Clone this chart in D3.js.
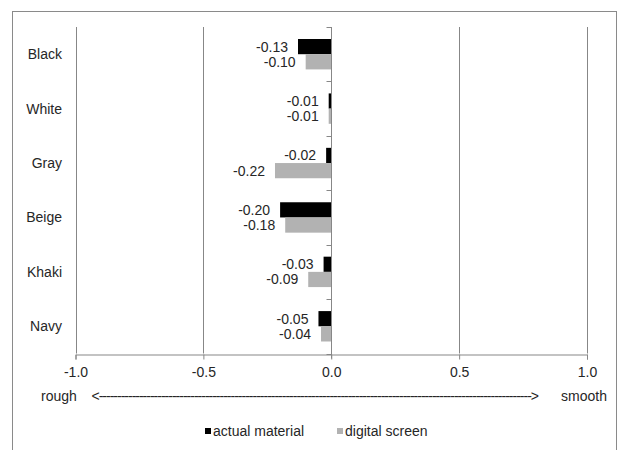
<!DOCTYPE html>
<html>
<head>
<meta charset="utf-8">
<script src="https://cdn.jsdelivr.net/npm/d3@7"></script>
<style>
  html, body { margin: 0; padding: 0; background: #fff; }
  svg text { font-family: "Liberation Sans", Arial, sans-serif; fill: #262626; }
</style>
</head>
<body>
<svg id="chart" width="618" height="450"></svg>
<script>
// Colour categories (top to bottom)
const categories = ["Black", "White", "Gray", "Beige", "Khaki", "Navy"];
// Series
const seriesNames = ["actual material", "digital screen"];
const actualMaterial = [-0.13, -0.01, -0.02, -0.20, -0.03, -0.05];
const digitalScreen  = [-0.10, -0.01, -0.22, -0.18, -0.09, -0.04];
const seriesColors = ["#000000", "#b2b2b2"];
// Value axis ticks
const xTicks = [-1.0, -0.5, 0.0, 0.5, 1.0];
const axisLeftLabel = "rough";
const axisRightLabel = "smooth";

const svg = d3.select("#chart");
const gridColor = "#878787";
const fontSize = 14;

// Outer frame (runs past the bottom edge)
svg.append("rect")
  .attr("x", 12.5).attr("y", 11.5)
  .attr("width", 604).attr("height", 460)
  .attr("fill", "none").attr("stroke", "#8a8a8a").attr("stroke-width", 1);

const plotTop = 27, plotBottom = 353.5;
const x = d3.scaleLinear().domain([-1, 1]).range([75.5, 587]);
const y = d3.scaleBand().domain(categories).range([plotTop, plotBottom]).padding(0);
const ySub = d3.scaleBand().domain(seriesNames)
  .range([0, y.bandwidth()]).paddingInner(0).paddingOuter(0.79);

// Vertical gridlines (zero is drawn as the category axis)
svg.append("g").selectAll("line")
  .data(xTicks.filter(t => t !== 0))
  .join("line")
  .attr("x1", d => Math.round(x(d)) + 0.5).attr("x2", d => Math.round(x(d)) + 0.5)
  .attr("y1", plotTop).attr("y2", plotBottom)
  .attr("stroke", gridColor).attr("stroke-width", 1);

// Bars
const rows = categories.map((c, i) => ({
  cat: c,
  vals: [actualMaterial[i], digitalScreen[i]]
}));

const barG = svg.append("g");
rows.forEach(r => {
  r.vals.forEach((v, j) => {
    const s = seriesNames[j];
    barG.append("rect")
      .attr("x", x(Math.min(0, v)))
      .attr("y", y(r.cat) + ySub(s))
      .attr("width", Math.abs(x(v) - x(0)))
      .attr("height", ySub.bandwidth())
      .attr("fill", seriesColors[j]);
    // value label outside the bar end
    barG.append("text")
      .attr("x", x(v) - 10)
      .attr("y", y(r.cat) + ySub(s) + ySub.bandwidth() / 2)
      .attr("dy", "0.35em")
      .attr("text-anchor", "end")
      .attr("font-size", fontSize)
      .text(v.toFixed(2));
  });
});

// Category axis along zero
const x0 = Math.round(x(0)) + 0.5;
const catAxis = svg.append("g");
catAxis.append("line")
  .attr("x1", x0).attr("x2", x0)
  .attr("y1", plotTop).attr("y2", plotBottom + 5)
  .attr("stroke", gridColor);
const boundaries = categories.map(c => y(c)).concat([plotBottom]);
catAxis.selectAll("line.tick").data(boundaries).join("line")
  .attr("class", "tick")
  .attr("x1", x0 - 5).attr("x2", x0)
  .attr("y1", d => Math.round(d) + 0.5).attr("y2", d => Math.round(d) + 0.5)
  .attr("stroke", gridColor);

// Category labels on the left
svg.append("g").selectAll("text").data(categories).join("text")
  .attr("x", 62)
  .attr("y", d => y(d) + y.bandwidth() / 2)
  .attr("dy", "0.35em")
  .attr("text-anchor", "end")
  .attr("font-size", fontSize)
  .text(d => d);

// Value axis (plain hyphen minus in the labels)
const xAxis = d3.axisBottom(x).tickValues(xTicks).tickSize(5).tickPadding(8)
  .tickFormat(d => d.toFixed(1));
const xg = svg.append("g")
  .attr("transform", `translate(0,${Math.round(plotBottom) + 0.5})`)
  .call(xAxis);
xg.select(".domain").attr("stroke", gridColor);
xg.selectAll(".tick line").attr("stroke", gridColor);
xg.selectAll(".tick text")
  .attr("font-size", fontSize)
  .attr("font-family", "Liberation Sans, Arial, sans-serif")
  .attr("fill", "#262626");

// Axis direction caption
const capY = 396;
svg.append("text").attr("x", 41).attr("y", capY).attr("dy", "0.35em")
  .attr("font-size", fontSize).text(axisLeftLabel);
svg.append("text").attr("x", 91.5).attr("y", capY).attr("dy", "0.35em")
  .attr("font-size", fontSize)
  .attr("textLength", 539 - 91.5).attr("lengthAdjust", "spacing")
  .text("<" + "-".repeat(118) + ">");
svg.append("text").attr("x", 607).attr("y", capY).attr("dy", "0.35em")
  .attr("text-anchor", "end")
  .attr("font-size", fontSize).text(axisRightLabel);

// Legend
const legendItems = [
  { name: seriesNames[0], color: seriesColors[0], sx: 205, tx: 213 },
  { name: seriesNames[1], color: seriesColors[1], sx: 337, tx: 345 }
];
const legY = 431;
const lg = svg.append("g");
legendItems.forEach(it => {
  lg.append("rect").attr("x", it.sx).attr("y", legY - 3)
    .attr("width", 6).attr("height", 6).attr("fill", it.color);
  lg.append("text").attr("x", it.tx).attr("y", legY).attr("dy", "0.35em")
    .attr("font-size", fontSize).text(it.name);
});
</script>
</body>
</html>
